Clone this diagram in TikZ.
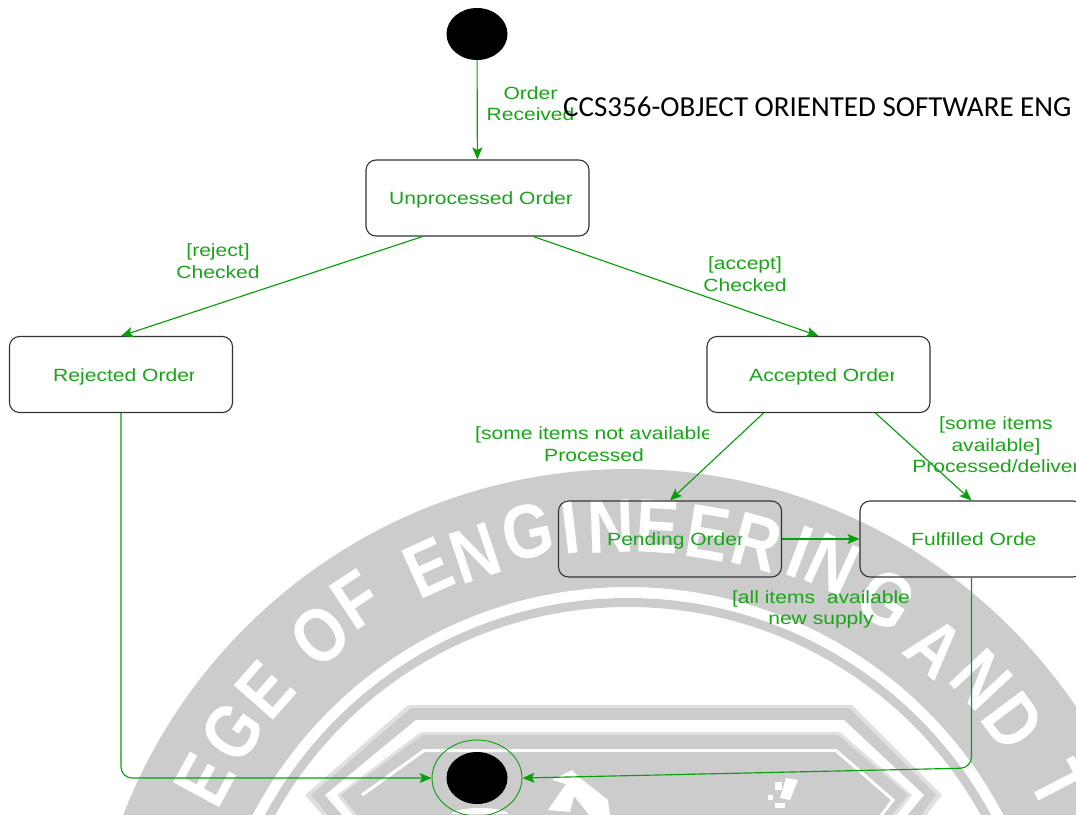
\documentclass[tikz,border=0pt]{standalone}
\usepackage{fontspec}
\setmainfont[FakeStretch=1.19]{Liberation Sans}
\newfontfamily\headfont{Carlito}
\newfontfamily\wmfont[FakeStretch=0.85,BoldFont=Liberation Sans Bold,BoldFeatures={FakeStretch=0.85}]{Liberation Sans}
\usetikzlibrary{arrows.meta,calc,shapes.geometric}
\definecolor{umlgreen}{HTML}{0A9E0A}
\definecolor{umltext}{HTML}{18A518}
\definecolor{wmgrey}{HTML}{CCCCCC}
\definecolor{wmlight}{HTML}{E0E0E0}
\tikzset{
  statebox/.style={draw=black!80,line width=1.1pt,rounded corners=10pt,minimum width=223pt,minimum height=76pt,inner sep=0pt},
  flow/.style={draw=umlgreen,line width=1.15pt,-{Stealth[length=12pt,width=10pt,inset=2.5pt]}},
  lbl/.style={text=umltext,font=\fontsize{17.7}{21.4}\selectfont,align=center,inner sep=0pt},
  statetext/.style={lbl,anchor=west},
  wmletter/.style={text=white,font=\wmfont\bfseries\fontsize{76}{76}\selectfont,inner sep=0pt},
  blackdot/.style={ellipse,fill=black,minimum width=61pt,minimum height=52pt,inner sep=0pt},
}
\begin{document}
\begin{tikzpicture}[x=1pt,y=-1pt]
\clip (0,0) rectangle (1076,814);
% watermark
\fill[wmgrey,even odd rule] (628,1010) circle[radius=541pt] (628,1010) circle[radius=423pt];
\draw[wmgrey,line width=9pt] (628,1010) circle[radius=407.5pt];
\fill[wmlight] (408,705) -- (852,705) -- (942,795) -- (915,830) -- (335,830) -- (305,795) -- cycle;
\fill[wmgrey] (411,708) -- (849,708) -- (936,795) -- (910,830) -- (340,830) -- (311,795) -- cycle;
\fill[white] (416,720) -- (844,720) -- (924,795) -- (895,830) -- (355,830) -- (325,795) -- cycle;
\fill[wmlight] (421,732) -- (840,732) -- (912,795) -- (885,830) -- (365,830) -- (337,795) -- cycle;
\fill[wmgrey] (423,735) -- (838,735) -- (908,795) -- (880,830) -- (370,830) -- (341,795) -- cycle;
\draw[white,line width=3pt] (362,795) -- (424,750.5) -- (836,750.5) -- (893,800) -- (870,830);
\foreach \ch/\px/\py [count=\i] in {E/205/780,G/233/732,E/265/690,O/320/635,F/357/600,E/428/568,N/475/553,G/528/532,I/570/527,N/611/527,E/658/527,E/708/533,R/757/543,I/800/552,N/833/564,G/887/600,A/935/648,N/982/680,D/1013/722,T/1060/785}{
  \pgfmathsetmacro{\ang}{-atan2(\px-628,1010-\py)}
  \node[wmletter,rotate=\ang,name=wm\i] at (\px,\py) {\ch};
}
\fill[white] (548,810) -- (566,784) -- (552,780) -- (572,770) -- (580,778) -- (608,800) -- (610,816) -- (590,816) -- (574,796) -- (570,812) -- cycle;
\fill[white] (775,782) rectangle (782,790);
\fill[white] (786,778) -- (798,780) -- (790,800) -- (780,798) -- cycle;
\fill[white] (768,795) rectangle (773,800);
\fill[white] (775,803) rectangle (785,808);
\fill[white] (452,814) arc[start angle=180,end angle=0,x radius=28pt,y radius=6pt] -- cycle;
% states
\node[blackdot] (start) at (477,34) {};
\node[statebox] (unproc) at (477.5,198) {};
\node[statebox] (rej) at (121,374.5) {};
\node[statebox] (acc) at (818.5,374.5) {};
\node[statebox] (pend) at (670,539) {};
\node[statebox] (ful) at (971.5,539) {};
\node[draw=umlgreen,line width=0.9pt,ellipse,minimum width=90pt,minimum height=76pt,inner sep=0pt] (final) at (477,778) {};
\node[blackdot] (finaldot) at (477,778) {};
\coordinate (fulturn) at (971.5,768);
% state names
\begin{scope}\clip (360,150) rectangle (571,240);
\node[statetext] (tunproc) at (389,199.5) {Unprocessed Order};\end{scope}
\begin{scope}\clip (0,330) rectangle (193,420);
\node[statetext] (trej) at (53,376.5) {Rejected Order};\end{scope}
\begin{scope}\clip (700,330) rectangle (893,420);
\node[statetext] (tacc) at (749,376.5) {Accepted Order};\end{scope}
\begin{scope}\clip (550,495) rectangle (741,585);
\node[statetext] (tpend) at (607,540.5) {Pending Order};\end{scope}
\node[statetext] (tful) at (911,539) {Fulfilled Orde};
% connectors
\draw[flow] (start) -- (unproc);
\draw[flow] ([xshift=-55pt]unproc.south) -- (rej.north);
\draw[flow] ([xshift=56pt]unproc.south) -- (acc.north);
\draw[flow] ([xshift=-55pt]acc.south) -- (pend.north);
\draw[flow] ([xshift=57pt]acc.south) -- (ful.north);
\draw[flow] (pend) -- (ful);
\draw[flow,rounded corners=11pt] (rej.south) |- (final.west);
\draw[flow,rounded corners=11pt] (ful.south) -- (fulturn) -- (final.east);
% labels
\node[lbl] (lorder) at (530.5,103.5) {Order\\Received};
\node[lbl] (lrej) at (218,261) {[reject]\\Checked};
\node[lbl] (lacc) at (745,274) {[accept]\\Checked};
\begin{scope}\clip (460,420) rectangle (708,470);
\node[lbl] (lsome) at (594,444) {[some items not available\\Processed};\end{scope}
\node[lbl] (lavail) at (996,445) {[some items\\available]\\Processed/deliver};
\node[lbl] (lall) at (821,609.5) {[all items\ \ available\\new supply};
\node[text=black,font=\headfont\fontsize{29}{32}\selectfont,anchor=west,inner sep=0pt] (head) at (563,107) {CCS356-OBJECT ORIENTED SOFTWARE ENG};
\end{tikzpicture}
\end{document}
